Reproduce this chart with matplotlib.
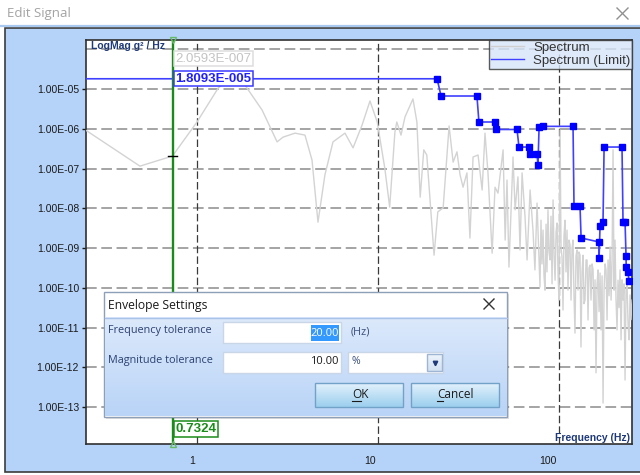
import numpy as np
import matplotlib
matplotlib.use("Agg")
import matplotlib.pyplot as plt
from matplotlib.patches import Rectangle
from matplotlib.lines import Line2D
from matplotlib.ticker import FixedLocator, FuncFormatter, NullLocator
from matplotlib.colors import to_rgb
from matplotlib.transforms import ScaledTranslation

W, H = 640, 475

# ---- data ----
# gray spectrum: frequency (Hz) and log10 of magnitude (g^2/Hz)
spec_freq_low = [0.24, 0.484, 0.732, 1.0, 1.31, 1.43, 1.62, 1.84, 2.29, 2.77,
                 2.99, 3.48, 3.95, 4.32, 4.66, 5.09, 5.64, 6.57, 7.28, 8.16,
                 9.03, 9.9, 10.9, 11.6, 12.4, 12.7, 13.4, 14.1, 15.6, 16.4,
                 17.1, 17.9, 18.6, 20.4, 21.4, 22.9, 24.7, 26.0, 27.3, 28.4]
spec_exp_low = [-6.02, -6.94, -6.686, -5.83, -4.975, -4.82, -4.77, -4.90, -5.53, -6.33,
                -6.21, -6.11, -6.16, -6.79, -8.35, -7.16, -6.33, -6.11, -6.48, -5.91,
                -5.30, -5.83, -6.99, -7.97, -6.08, -5.83, -6.16, -5.70, -5.25, -5.83,
                -7.72, -6.53, -6.66, -9.18, -8.09, -7.99, -5.93, -6.84, -6.58, -7.16]
spec_freq_mid = [29.5, 31.0, 32.2, 33.5, 35.7, 37.6, 39.0, 40.5, 42.7, 44.3,
                 46.0, 49.1, 50.4, 51.6, 52.9, 55.7, 57.2, 59.3, 60.9, 62.5,
                 64.9, 66.6, 69.2, 71.8, 73.6, 75.6]
spec_exp_mid = [-7.47, -7.11, -8.75, -6.71, -6.66, -7.54, -6.11, -7.11, -9.13, -7.47,
                -7.62, -6.53, -8.80, -7.29, -9.48, -6.71, -8.04, -7.21, -9.05, -7.11,
                -8.22, -9.30, -7.54, -8.55, -9.55, -7.87]
spec_freq_high = [78.5, 79.5, 80.5, 81.6, 82.6, 83.7, 84.8, 85.8, 86.9, 88.0,
                  89.2, 90.3, 91.5, 92.7, 93.9, 95.1, 96.3, 97.5, 98.8, 100.0,
                  101.3, 102.6, 103.9, 105.2, 106.5, 107.9, 109.3, 110.7, 112.1, 113.5,
                  115.0, 116.5, 118.0, 119.5, 121.0, 122.5, 124.1, 125.7, 127.3, 128.9,
                  130.6, 132.2, 134.0, 135.7, 137.4, 139.2, 141.0, 142.8, 144.6, 146.4,
                  148.3, 150.2, 152.2, 154.2, 156.1, 158.1, 160.1, 162.2, 164.2, 166.4,
                  168.5, 170.6, 172.9, 175.1, 177.3, 179.6, 181.9, 184.2, 186.6, 189.0,
                  191.4, 193.9, 196.3, 198.8, 201.4, 203.9, 206.5, 209.2, 211.8, 214.6,
                  217.3, 220.1, 222.9, 225.7, 228.6, 231.6, 234.5, 237.6, 240.6, 243.7,
                  246.8, 250.0, 253.1]
spec_exp_high = [-9.98, -8.3, -9.4, -8.55, -9.7, -10.06, -8.4, -9.6, -8.04, -9.1,
                 -9.30, -8.2, -9.9, -7.79, -9.2, -9.81, -8.6, -8.37, -9.7, -10.31,
                 -6.03, -9.0, -9.23, -10.56, -8.7, -8.30, -9.6, -8.55, -10.06, -8.8,
                 -8.92, -10.31, -9.0, -8.80, -10.2, -11.14, -9.2, -9.05, -10.06, -9.1,
                 -9.18, -11.49, -9.6, -9.18, -10.4, -10.31, -9.3, -9.30, -10.81, -9.5,
                 -9.43, -10.31, -9.4, -9.55, -11.06, -9.8, -12.14, -9.93, -9.55, -10.6,
                 -9.63, -11.06, -9.7, -12.90, -10.06, -9.4, -9.55, -10.81, -9.30, -10.2,
                 -8.97, -10.31, -9.3, -6.53, -10.06, -8.80, -10.3, -11.06, -9.81, -10.5,
                 -9.55, -11.31, -9.8, -10.31, -9.9, -12.32, -10.06, -9.93, -10.9, -11.31,
                 -10.18, -10.8, -10.31]

# blue envelope (limit)
limit_freq = [0.2, 21.2, 22.3, 35.2, 36.1, 44.3, 44.9, 58.6, 60.1, 68.3,
              69.2, 75.6, 76.5, 77.6, 81.6, 119.5, 121.0, 130.6, 132.4, 166.4,
              166.4, 168.5, 175.0, 177.4, 222.8, 225.7, 231.6, 234.5, 235.0, 240.5,
              243.6]
limit_mag = [1.8093e-5, 1.8093e-5, 6.67e-6, 6.67e-6, 1.48e-6, 1.48e-6, 9.6e-7, 9.6e-7, 3.47e-7, 3.47e-7,
             2.32e-7, 2.32e-7, 1.22e-7, 1.11e-6, 1.15e-6, 1.15e-6, 1.14e-8, 1.14e-8, 1.79e-9, 1.42e-9,
             5.6e-10, 3.57e-9, 4.5e-9, 3.47e-7, 3.47e-7, 4.5e-9, 4.5e-9, 6.3e-10, 3.3e-10, 2.5e-10,
             1.48e-10]

cursor_freq = 0.7324
cursor_spec = 2.0593e-7
cursor_limit = 1.8093e-5

ytick_vals = [1e-5, 1e-6, 1e-7, 1e-8, 1e-9, 1e-10, 1e-11, 1e-12, 1e-13]
ygrid_vals = [1e-4] + ytick_vals
xtick_vals = [1, 10, 100]
xtick_labels = ["1", "10", "100"]

spec_freq = np.array(spec_freq_low + spec_freq_mid + spec_freq_high)
spec_mag = 10.0 ** np.array(spec_exp_low + spec_exp_mid + spec_exp_high)

UI_FONT = "Open Sans"
CH_FONT = "Liberation Sans"


def vgrad(a, x0, y0, w, h, ctop, cbot, z=1):
    c1 = np.array(to_rgb(ctop))
    c2 = np.array(to_rgb(cbot))
    t = np.linspace(0, 1, 64)[:, None]
    img = (c1 * (1 - t) + c2 * t)[:, None, :]
    a.imshow(img, extent=(x0, x0 + w, y0 + h, y0), aspect="auto",
             interpolation="bilinear", zorder=z)


fig = plt.figure(figsize=(6.4, 4.75), dpi=100)
fig.patch.set_facecolor("white")

# ---- window background ----
bg = fig.add_axes([0, 0, 1, 1], zorder=0)
bg.set_xlim(0, W)
bg.set_ylim(H, 0)
bg.axis("off")
bg.text(7, 13, "Edit Signal", fontsize=9.5, color="#a3a3a3", family=UI_FONT, va="center")
bg.plot([617, 628], [8, 19], color="#909090", lw=1)
bg.plot([617, 628], [19, 8], color="#909090", lw=1)
bg.plot([0, W], [25.5, 25.5], color="#a9c9f0", lw=1.6)
bg.add_patch(Rectangle((5, 28), 640, 444, fc="#b5d3f9", ec="#3c3c3c", lw=1.2))
bg.set_xlim(0, W)
bg.set_ylim(H, 0)

# ---- chart ----
ax = fig.add_axes([86 / W, 1 - 444 / H, 546 / W, 404 / H], zorder=1)
ax.set_facecolor("white")
ax.set_xscale("log")
ax.set_yscale("log")

for v in ygrid_vals:
    ax.axhline(v, color="#8c8c8c", lw=1.1, dashes=(7, 3), zorder=1)
for v in xtick_vals:
    ax.axvline(v, color="#3a3a3a", lw=0.9, dashes=(6, 2.5), zorder=1)

ax.plot(spec_freq, spec_mag, color="#d3d3d3", lw=1, zorder=3)
ax.plot(limit_freq, limit_mag, color="#4040ff", lw=1.2, marker="s", ms=5,
        mfc="#0000ff", mec="#0000ff", zorder=4)

# cursor
ax.axvline(cursor_freq, color="#1a8c1a", lw=1.7, zorder=5)
ax.plot([cursor_freq / 1.06, cursor_freq * 1.06], [cursor_spec, cursor_spec],
        color="black", lw=1, zorder=6)

ax.set_xlim(0.2437, 253)
ax.set_ylim(10 ** -13.93, 10 ** -3.767)

ax.plot([cursor_freq], [10 ** -3.767], marker="v", ms=5, mfc="none", mec="#66bb66",
        clip_on=False, zorder=6)
ax.plot([cursor_freq], [10 ** -13.93], marker="^", ms=5, mfc="none", mec="#66bb66",
        clip_on=False, zorder=6)

ax.annotate("1.8093E-005", xy=(cursor_freq, cursor_limit), xytext=(3, 0),
            textcoords="offset pixels", ha="left", va="center", fontsize=9.5,
            fontweight="bold", color="#2020ff", family=CH_FONT, zorder=7,
            bbox=dict(boxstyle="square,pad=0.12", fc="white", ec="#3a3aff", lw=1.1))
ax.annotate("2.0593E-007", xy=(cursor_freq, cursor_limit), xytext=(3, 20),
            textcoords="offset pixels", ha="left", va="center", fontsize=9.5,
            color="#c4c4c4", family=CH_FONT, zorder=7,
            bbox=dict(boxstyle="square,pad=0.12", fc="white", ec="#dedede", lw=1.1))
ax.annotate("0.7324", xy=(cursor_freq, 0), xycoords=("data", "axes fraction"),
            xytext=(3, 15), textcoords="offset pixels", ha="left", va="center",
            fontsize=9.5, fontweight="bold", color="#1a8c1a", family=CH_FONT, zorder=7,
            bbox=dict(boxstyle="square,pad=0.15", fc="white", ec="#1a8c1a", lw=1.1))

ax.text(0.009, 0.985, "LogMag g² / Hz", transform=ax.transAxes, fontsize=7.5,
        fontweight="bold", color="#1f3a78", family=CH_FONT, va="center", ha="left")
ax.text(0.996, 0.016, "Frequency (Hz)", transform=ax.transAxes, fontsize=7.5,
        fontweight="bold", color="#1f3a78", family=CH_FONT, va="center", ha="right")

ax.yaxis.set_major_locator(FixedLocator(ytick_vals))
ax.yaxis.set_minor_locator(NullLocator())
ax.yaxis.set_major_formatter(FuncFormatter(lambda v, p: f"{v:.2E}"))
ax.xaxis.set_major_locator(FixedLocator(xtick_vals))
ax.xaxis.set_minor_locator(NullLocator())
ax.set_xticklabels(xtick_labels)
ax.tick_params(axis="y", direction="out", length=3, width=1, pad=2, labelsize=7.5,
               colors="#1a1a1a")
ax.tick_params(axis="x", length=0, pad=9, labelsize=7.5, colors="#1a1a1a")
for lab in ax.get_yticklabels():
    lab.set_family(CH_FONT)
shift = ScaledTranslation(-2 / 100, 0, fig.dpi_scale_trans)
for lab in ax.get_xticklabels():
    lab.set_family(CH_FONT)
    lab.set_horizontalalignment("right")
    lab.set_transform(lab.get_transform() + shift)
for s in ax.spines.values():
    s.set_color("#303030")
    s.set_linewidth(1.2)

handles = [Line2D([], [], color="#cfcfcf", lw=1), Line2D([], [], color="#4040ff", lw=1)]
leg = ax.legend(handles, ["Spectrum", "Spectrum (Limit)"], loc="upper right",
                bbox_to_anchor=(1, 1), borderaxespad=0, frameon=True,
                fancybox=False, edgecolor="#333333", facecolor="#d6e5f8", framealpha=0.8,
                handlelength=2.5, handletextpad=0.7, borderpad=0.12, labelspacing=0.08,
                prop={"family": CH_FONT, "size": 9.5})
for t in leg.get_texts():
    t.set_color("#333333")
leg.set_zorder(8)

# ---- dialog ----
ui = fig.add_axes([0, 0, 1, 1], zorder=3)
ui.patch.set_alpha(0)
ui.axis("off")
ui.add_patch(Rectangle((106, 294), 403, 125, fc="black", alpha=0.12, lw=0, zorder=0))
ui.add_patch(Rectangle((104, 292), 403, 125, fc="white", ec="#8e9fb8", lw=1, zorder=1))
vgrad(ui, 104.5, 318, 402, 98.5, "#dce9fb", "#b9d4f7", z=2)
ui.plot([104.5, 506.5], [318, 318], color="#a9c3e8", lw=1, zorder=3)
ui.text(108, 306, "Envelope Settings", fontsize=8.7, family=UI_FONT, color="#1a1a1a",
        va="center", zorder=4)
ui.plot([484, 494], [299, 309], color="#333333", lw=1, zorder=4)
ui.plot([484, 494], [309, 299], color="#333333", lw=1, zorder=4)

ui.text(108, 331, "Frequency tolerance", fontsize=7.8, family=UI_FONT, color="#2b4170",
        va="center", zorder=4)
ui.text(108, 360, "Magnitude tolerance", fontsize=7.8, family=UI_FONT, color="#2b4170",
        va="center", zorder=4)
ui.add_patch(Rectangle((223, 322), 118, 21, fc="white", ec="#c9d6e8", lw=1, zorder=4))
ui.add_patch(Rectangle((223, 352), 118, 21, fc="white", ec="#c9d6e8", lw=1, zorder=4))
ui.add_patch(Rectangle((311, 324.5), 28, 16.5, fc="#3399ff", lw=0, zorder=5))
ui.text(339, 333, "20.00", fontsize=8, family=UI_FONT, color="white", ha="right",
        va="center", zorder=6)
ui.text(339, 362, "10.00", fontsize=8, family=UI_FONT, color="#1a1a1a", ha="right",
        va="center", zorder=6)
ui.text(351, 332, "(Hz)", fontsize=7.8, family=UI_FONT, color="#3a4f7a", va="center",
        zorder=4)
ui.add_patch(Rectangle((348, 352), 95, 21, fc="white", ec="#c9d6e8", lw=1, zorder=4))
ui.text(352, 362, "%", fontsize=7.5, family=UI_FONT, color="#3a4f7a", va="center", zorder=5)
vgrad(ui, 427, 354, 15, 17, "#eef4fb", "#d3e2f3", z=5)
ui.add_patch(Rectangle((427, 354), 15, 17, fc="none", ec="#9fb5d4", lw=1, zorder=6))
ui.plot([434.5], [363], marker="v", ms=3.2, color="#1f3a78", zorder=7)

vgrad(ui, 315, 383, 88, 24, "#e2f1fc", "#9ccfee", z=4)
ui.add_patch(Rectangle((315, 383), 88, 24, fc="none", ec="#73a2c9", lw=1, zorder=5))
vgrad(ui, 411, 383, 88, 24, "#e2f1fc", "#9ccfee", z=4)
ui.add_patch(Rectangle((411, 383), 88, 24, fc="none", ec="#73a2c9", lw=1, zorder=5))
ui.text(352, 394.5, "OK", fontsize=8.5, family=UI_FONT, color="#1a1a1a", va="center",
        zorder=6)
ui.plot([352, 361], [401, 401], color="#1a1a1a", lw=0.8, zorder=6)
ui.text(437, 394.5, "Cancel", fontsize=8.5, family=UI_FONT, color="#1a1a1a", va="center",
        zorder=6)
ui.plot([437, 443], [401, 401], color="#1a1a1a", lw=0.8, zorder=6)

ui.set_xlim(0, W)
ui.set_ylim(H, 0)

fig.savefig("out.png", dpi=100, facecolor="white")
